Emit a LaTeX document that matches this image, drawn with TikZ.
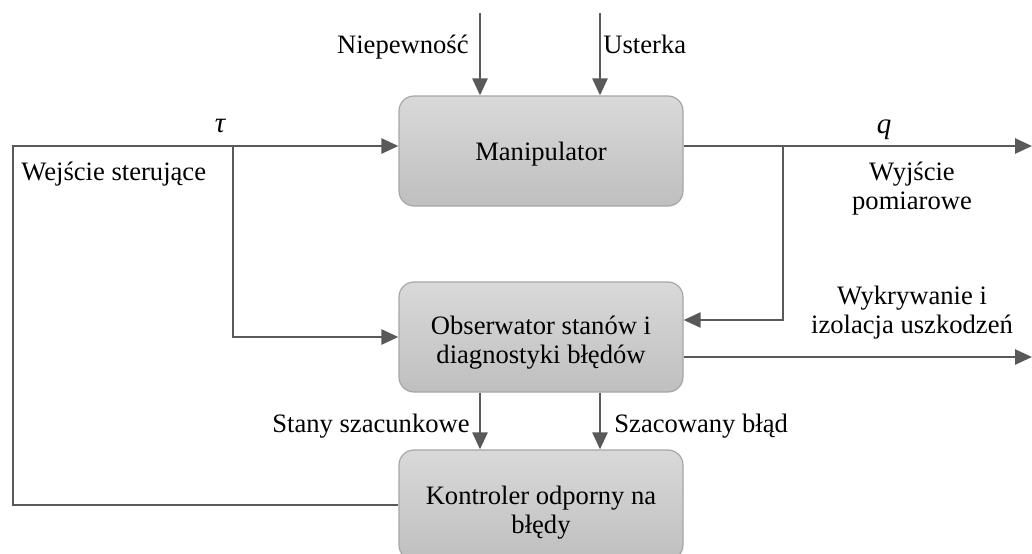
\documentclass[tikz,border=0pt]{standalone}
\usepackage{fontspec}
\setmainfont{Liberation Serif}
\usetikzlibrary{arrows.meta}
\definecolor{wirecol}{HTML}{595959}
\definecolor{boxedge}{HTML}{A6A6A6}
\definecolor{boxtop}{HTML}{D9D9D9}
\definecolor{boxbot}{HTML}{BFBFBF}
\newcommand{\lblfont}{\fontsize{13.3}{14.5}\selectfont}
\newcommand{\symfont}{\fontsize{14.5}{15}\selectfont\itshape}
\begin{document}
\begin{tikzpicture}[x=0.5pt,y=-0.5pt,
  blk/.style={draw=boxedge, line width=0.6pt, rounded corners=7.5pt,
    top color=boxtop, bottom color=boxbot,
    minimum width=142pt, minimum height=55pt, inner sep=0pt},
  wire/.style={draw=wirecol, line width=1.3pt},
  arr/.style={wire, -{Triangle[length=8.5pt,width=7.5pt]}},
  txt/.style={inner sep=0pt, font=\lblfont, align=center}]
\useasboundingbox (0,0) rectangle (1032,553);
\clip (0,0) rectangle (1032,553);

% blocks (two-line texts are placed by the baseline of their last line)
\node[blk] (man) at (541,151) {};
\node[blk] (obs) at (541,337) {};
\node[blk] (ctl) at (541,505) {};
\node[txt, anchor=base] (mantext) at (541,160) {Manipulator};
\node[txt, anchor=base] (obstext) at (541,363) {Obserwator stanów i\\diagnostyki błędów};
\node[txt, anchor=base] (ctltext) at (541,533) {Kontroler odporny na\\błędy};

% wire end points and junctions
\coordinate (unc) at (480,13);
\coordinate (flt) at (600,13);
\coordinate (fb) at (13,146);
\coordinate (tb) at (233,146);
\coordinate (qb) at (783,146);
\coordinate (qout) at (1032,146);
\coordinate (dout) at (1032,357);

% connectors
\draw[arr] (unc) -- (unc |- man.north);
\draw[arr] (flt) -- (flt |- man.north);
\draw[arr] (ctl.west) -| (fb) -- (man.west |- fb);
\draw[arr] (tb) |- (obs.west);
\draw[arr] (man.east |- qout) -- (qout);
\draw[arr] (qb) |- ([yshift=8.5pt]obs.east);
\draw[arr] (obs.east |- dout) -- (dout);
\draw[arr] (obs.south -| unc) -- (ctl.north -| unc);
\draw[arr] (obs.south -| flt) -- (ctl.north -| flt);

% labels
\node[txt, anchor=base east] (lunc) at (469,53) {Niepewność};
\node[txt, anchor=base west] (lflt) at (603,53) {Usterka};
\node[txt, anchor=base, font=\symfont] (ltau) at (220,132) {τ};
\node[txt, anchor=base, font=\symfont] (lq) at (884,133) {q};
\node[txt, anchor=base west] (lin) at (21,180) {Wejście sterujące};
\node[txt, anchor=base] (lout) at (912,209) {Wyjście\\pomiarowe};
\node[txt, anchor=base] (ldet) at (912,333) {Wykrywanie i\\izolacja uszkodzeń};
\node[txt, anchor=base east] (lest) at (470,432) {Stany szacunkowe};
\node[txt, anchor=base west] (lerr) at (614,432) {Szacowany błąd};
\end{tikzpicture}
\end{document}
